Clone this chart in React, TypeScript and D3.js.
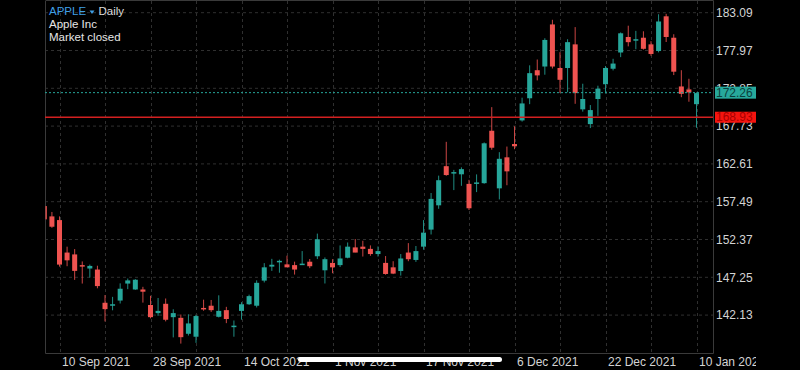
import React from "react";
import * as d3 from "d3";

// Trading days (Sep 8 2021 .. Jan 10 2022)
const dates = [
  "2021-09-08","2021-09-09","2021-09-10","2021-09-13","2021-09-14","2021-09-15","2021-09-16","2021-09-17",
  "2021-09-20","2021-09-21","2021-09-22","2021-09-23","2021-09-24","2021-09-27","2021-09-28","2021-09-29",
  "2021-09-30","2021-10-01","2021-10-04","2021-10-05","2021-10-06","2021-10-07","2021-10-08","2021-10-11",
  "2021-10-12","2021-10-13","2021-10-14","2021-10-15","2021-10-18","2021-10-19","2021-10-20","2021-10-21",
  "2021-10-22","2021-10-25","2021-10-26","2021-10-27","2021-10-28","2021-10-29","2021-11-01","2021-11-02",
  "2021-11-03","2021-11-04","2021-11-05","2021-11-08","2021-11-09","2021-11-10","2021-11-11","2021-11-12",
  "2021-11-15","2021-11-16","2021-11-17","2021-11-18","2021-11-19","2021-11-22","2021-11-23","2021-11-24",
  "2021-11-26","2021-11-29","2021-11-30","2021-12-01","2021-12-02","2021-12-03","2021-12-06","2021-12-07",
  "2021-12-08","2021-12-09","2021-12-10","2021-12-13","2021-12-14","2021-12-15","2021-12-16","2021-12-17",
  "2021-12-20","2021-12-21","2021-12-22","2021-12-23","2021-12-27","2021-12-28","2021-12-29","2021-12-30",
  "2021-12-31","2022-01-03","2022-01-04","2022-01-05","2022-01-06","2022-01-07","2022-01-10",
];

const open = [
  156.9,155.5,155.0,150.6,150.35,148.9,148.44,148.3,
  143.8,143.4,144.1,146.4,145.6,145.6,143.5,142.4,
  143.66,141.85,141.76,139.6,139.2,143.1,143.4,141.9,
  142.8,140.5,142.7,143.6,143.4,146.8,148.7,149.3,
  149.0,148.9,149.0,149.36,150.1,148.2,149.2,148.9,
  149.9,151.3,151.4,151.1,150.4,149.2,148.6,148.1,
  150.6,149.6,151.4,153.71,157.0,162.3,161.3,161.2,
  159.9,159.9,160.0,167.1,159.3,163.5,165.3,168.5,
  171.5,175.3,175.8,181.5,175.6,175.6,178.8,170.0,
  168.0,171.4,173.4,175.5,177.7,179.8,179.4,179.7,
  178.8,177.9,182.6,179.7,173.1,172.7,170.7,
];
const high = [
  157.0,156.1,155.5,151.4,151.07,149.4,148.97,148.82,
  144.84,144.6,146.43,147.08,147.0,145.96,144.75,144.45,
  144.38,142.92,142.21,142.24,142.15,144.22,144.18,144.81,
  143.25,141.4,143.88,144.9,146.84,149.17,149.75,149.64,
  150.18,149.37,150.8,149.73,153.17,149.94,149.7,151.57,
  151.97,152.43,152.2,151.57,151.43,150.13,149.43,150.4,
  151.88,151.49,155.0,158.67,161.02,165.6,161.8,162.14,
  160.45,161.19,165.52,170.3,164.2,164.96,167.7,171.58,
  175.96,176.75,179.63,182.13,177.74,179.5,181.14,173.47,
  170.58,173.2,175.86,176.85,180.42,181.33,180.63,180.57,
  179.23,182.88,182.94,180.17,175.3,174.14,172.3,
];
const low = [
  154.0,153.95,148.7,148.75,146.9,146.4,147.22,145.76,
  141.27,142.78,143.7,145.64,145.56,143.82,141.69,142.03,
  141.28,139.11,138.27,139.36,138.37,142.72,142.56,141.81,
  141.04,139.2,141.51,143.51,143.16,146.55,148.12,147.87,
  148.64,147.62,148.95,148.49,149.72,146.41,147.8,148.65,
  149.82,150.64,150.06,150.16,150.06,147.6,147.68,147.48,
  149.43,149.34,150.99,153.05,156.53,161.0,159.06,159.64,
  156.36,158.79,159.92,164.53,157.8,159.72,164.6,168.34,
  170.7,173.92,174.69,175.53,172.21,172.31,170.75,169.69,
  167.46,169.12,172.15,175.27,177.07,178.53,178.14,178.09,
  177.26,177.71,179.12,174.64,171.64,171.03,167.5,
];
const close = [
  155.1,154.1,148.97,149.55,148.12,148.7,148.79,146.06,
  142.94,143.6,145.7,146.83,146.92,145.3,141.85,142.7,
  141.5,142.4,139.14,141.0,142.0,142.9,142.8,142.7,
  141.6,140.7,143.6,144.7,146.5,148.6,148.95,149.48,
  148.6,148.3,149.1,148.75,152.4,149.7,148.6,149.8,
  151.4,150.6,151.1,150.4,150.8,147.7,147.75,149.8,
  149.7,150.8,153.3,157.87,160.4,161.1,161.5,161.9,
  156.6,160.1,165.4,164.8,163.3,161.6,165.0,170.8,
  174.9,174.6,179.4,175.8,174.0,179.1,172.2,171.4,
  169.9,172.8,175.6,176.2,180.3,179.1,179.5,178.2,
  177.5,181.9,179.8,175.1,172.1,172.3,172.2,
];

const yTickValues = [183.09, 177.97, 172.85, 167.73, 162.61, 157.49, 152.37, 147.25, 142.13];
const xGridIndices = [2, 8, 14, 20, 26, 32, 38, 44, 50, 56, 62, 68, 74, 80, 86];
const xLabelIndices = [2, 14, 26, 38, 50, 62, 74, 86];
const xLabels = ["10 Sep 2021", "28 Sep 2021", "14 Oct 2021", "1 Nov 2021", "17 Nov 2021", "6 Dec 2021", "22 Dec 2021", "10 Jan 2022"];

const lastPrice = 172.26;
const alertPrice = 168.93;
const symbol = "APPLE";
const interval = "Daily";
const companyName = "Apple Inc";
const marketStatus = "Market closed";

const W = 800, H = 370;
const L = 45, R = 713, T = 1, B = 353;
const UP = "#26a69a", DOWN = "#ef5350";
const FONT = "'Liberation Sans', Arial, sans-serif";

export default function App() {
  const x = d3.scaleLinear().domain([2, 86]).range([59.5, 696.5]);
  const y = d3.scaleLinear().domain([142.13, 183.09]).range([315.1, 12.7]);
  const bw = 5;
  const candles = dates.map((d, i) => ({ d, o: open[i], h: high[i], l: low[i], c: close[i], i }));

  return (
    <svg width={W} height={H} style={{ position: "absolute", left: 0, top: 0, display: "block", background: "#000" }}
      fontFamily={FONT}>
      <defs>
        <clipPath id="plot"><rect x={L + 0.5} y={T} width={R - L - 0.5} height={B - T} /></clipPath>
        <clipPath id="xlab"><rect x={0} y={B + 1} width={756} height={H - B} /></clipPath>
      </defs>
      <rect x={0} y={0} width={W} height={H} fill="#000" />
      {/* grid */}
      {yTickValues.map((v) => (
        <line key={"hg" + v} x1={L} x2={R} y1={y(v)} y2={y(v)} stroke="#2f2f2f" strokeDasharray="3,3" />
      ))}
      {xGridIndices.map((i) => (
        <line key={"vg" + i} x1={Math.round(x(i)) + 0.5} x2={Math.round(x(i)) + 0.5} y1={T} y2={B} stroke="#2f2f2f" strokeDasharray="3,3" />
      ))}
      {/* frame */}
      <path d={`M${L + 0.5},${T} V${B + 0.5} H${R + 0.5} V${T - 0.5} H${L + 0.5}`} fill="none" stroke="#3a3a3a" />
      {/* candles */}
      <g clipPath="url(#plot)">
        {candles.map((k) => {
          const col = k.c >= k.o ? UP : DOWN;
          const cx = x(k.i);
          const top = y(Math.max(k.o, k.c));
          const bot = y(Math.min(k.o, k.c));
          return (
            <g key={k.d}>
              <line x1={cx} x2={cx} y1={y(k.h)} y2={y(k.l)} stroke={col} strokeWidth={1} opacity={0.85} />
              <rect x={cx - bw / 2} y={top} width={bw} height={Math.max(1.5, bot - top)} fill={col} />
            </g>
          );
        })}
      </g>
      {/* price lines */}
      <line x1={L} x2={R} y1={y(lastPrice)} y2={y(lastPrice)} stroke={UP} strokeDasharray="2,2" strokeWidth={1} />
      <line x1={L} x2={R} y1={y(alertPrice)} y2={y(alertPrice)} stroke="#d32020" strokeWidth={1.5} />
      {/* y axis labels */}
      {yTickValues.map((v) => (
        <text key={"yl" + v} x={716} y={y(v) + 4.3} fontSize={12} fill="#d4d4d4">{v.toFixed(2)}</text>
      ))}
      {/* price badges */}
      <rect x={715} y={y(lastPrice) - 6} width={41} height={12} fill="#27a99c" />
      <text x={716} y={y(lastPrice) + 4.3} fontSize={12} fill="#0c3f3b">{lastPrice.toFixed(2)}</text>
      <rect x={715} y={y(alertPrice) - 5.5} width={41} height={11} fill="#f5140f" />
      <text x={716} y={y(alertPrice) + 4} fontSize={12} fill="#a80000">{alertPrice.toFixed(2)}</text>
      {/* x axis labels */}
      <g clipPath="url(#xlab)">
        {xLabelIndices.map((i, j) => (
          <text key={"xl" + i} x={Math.round(x(i)) + 2} y={366} fontSize={12} fill="#d4d4d4">{xLabels[j]}</text>
        ))}
      </g>
      {/* legend */}
      <text x={49} y={14.5} fontSize={11.5}>
        <tspan fill="#3f9fe6">{symbol}</tspan>
      </text>
      <path d="M89.5,10.5 L94.5,10.5 L92,14 Z" fill="#3f9fe6" />
      <text x={98.5} y={14.5} fontSize={11.5} fill="#dcdcdc">{interval}</text>
      <text x={49} y={28} fontSize={11.5} fill="#e6e6e6">{companyName}</text>
      <text x={49} y={41} fontSize={11.5} fill="#e6e6e6">{marketStatus}</text>
      {/* home indicator */}
      <rect x={298} y={357} width={204} height={5} rx={2.5} fill="#fff" />
    </svg>
  );
}
